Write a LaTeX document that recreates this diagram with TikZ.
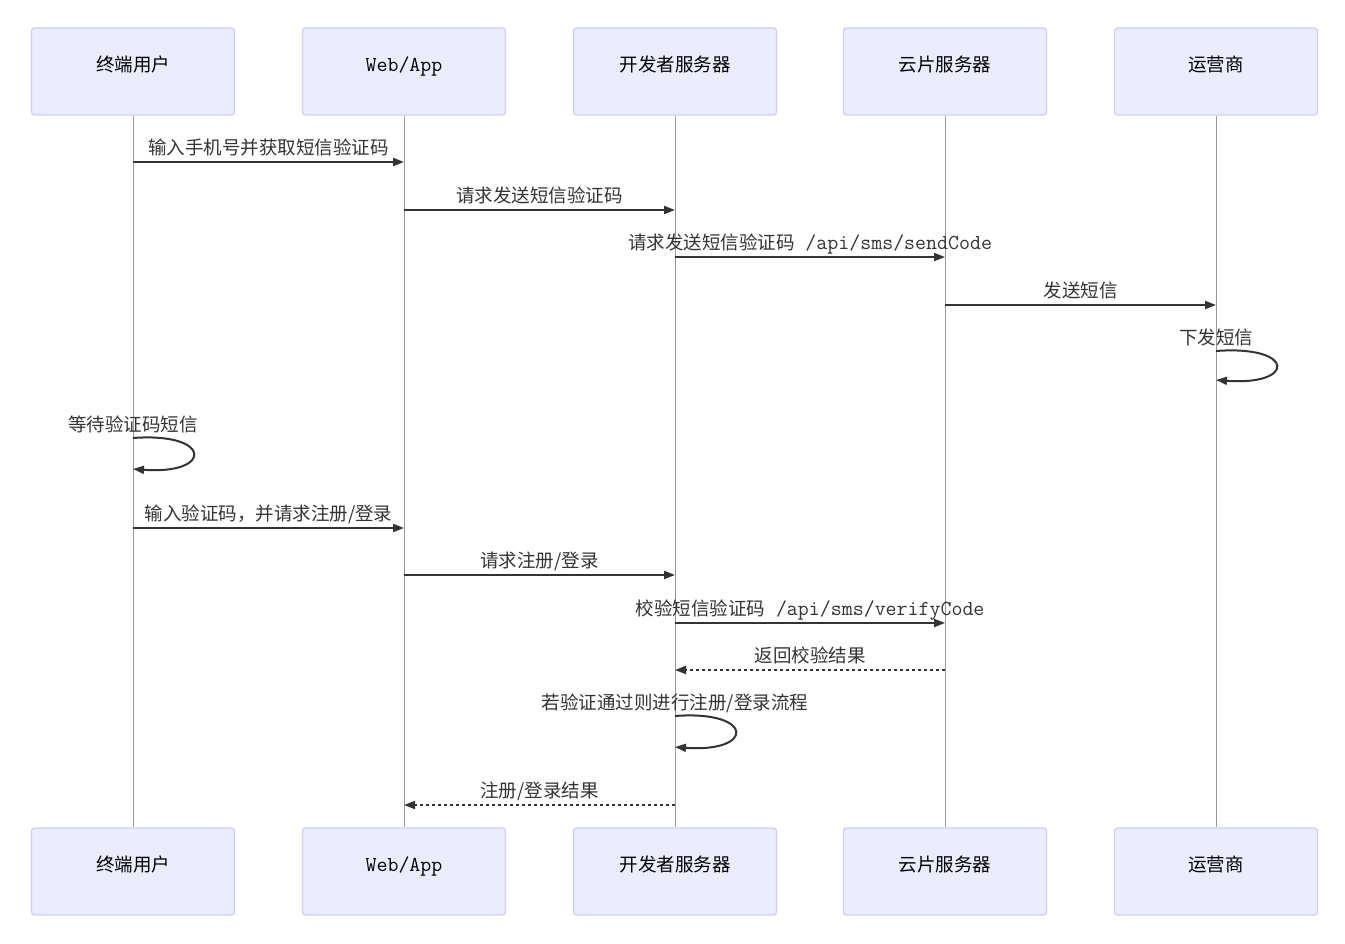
\documentclass[tikz,border=0pt]{standalone}
\usepackage{fontspec}
\setmainfont{Noto Sans CJK SC}
\newcommand\codefont{\ttfamily\fontsize{21.3}{22}\selectfont}
\usetikzlibrary{arrows.meta}
\definecolor{actorfill}{HTML}{ECECFF}
\definecolor{actorline}{HTML}{CCCCFF}
\definecolor{msgline}{HTML}{333333}
\definecolor{lifeline}{HTML}{999999}
\tikzstyle{actor} = [draw=actorline, line width=1.3pt, fill=actorfill, rounded corners=3pt, minimum width=203pt, minimum height=87pt, inner sep=0pt, text height=14pt, text depth=14pt, text=black, font=\fontsize{18.5}{22}\selectfont]
\tikzstyle{life} = [draw=lifeline, line width=1pt]
\tikzstyle{msg} = [draw=msgline, line width=2pt, -{Triangle[length=11pt,width=8pt]}]
\tikzstyle{reply} = [msg, dash pattern=on 3pt off 3pt]
\tikzstyle{lbl} = [anchor=base, yshift=7.5pt, inner sep=0pt, text=msgline, font=\fontsize{18.5}{22}\selectfont]

\begin{document}
\begin{tikzpicture}[x=1pt,y=-1pt]
        \useasboundingbox (0,0) rectangle (1345,944);
        % actors, top row
        \node [actor] (u1) at (133,71.5) {终端用户};
        \node [actor] (u2) at (404,71.5) {\codefont Web/App};
        \node [actor] (u3) at (675,71.5) {开发者服务器};
        \node [actor] (u4) at (945,71.5) {云片服务器};
        \node [actor] (u5) at (1216,71.5) {运营商};
        % actors, bottom row
        \node [actor] (d1) at (133,871.5) {终端用户};
        \node [actor] (d2) at (404,871.5) {\codefont Web/App};
        \node [actor] (d3) at (675,871.5) {开发者服务器};
        \node [actor] (d4) at (945,871.5) {云片服务器};
        \node [actor] (d5) at (1216,871.5) {运营商};
        % lifelines
        \foreach \i in {1,...,5}
                \draw [life] (u\i.south) -- (d\i.north);
        % messages
        \draw [msg] (u1 |- 0,162) -- node [lbl] {输入手机号并获取短信验证码} (u2 |- 0,162);
        \draw [msg] (u2 |- 0,210) -- node [lbl] {请求发送短信验证码} (u3 |- 0,210);
        \draw [msg] (u3 |- 0,257) -- node [lbl] {请求发送短信验证码\codefont\ /api/sms/sendCode} (u4 |- 0,257);
        \draw [msg] (u4 |- 0,305) -- node [lbl] {发送短信} (u5 |- 0,305);
        \draw [msg] (u5 |- 0,351) node [lbl, yshift=-1pt] {下发短信} .. controls +(80,-6) and +(80,6) .. (u5 |- 0,380);
        \draw [msg] (u1 |- 0,438) node [lbl, yshift=-1pt] {等待验证码短信} .. controls +(80,-6) and +(80,6) .. (u1 |- 0,469);
        \draw [msg] (u1 |- 0,528) -- node [lbl] {输入验证码，并请求注册/登录} (u2 |- 0,528);
        \draw [msg] (u2 |- 0,575) -- node [lbl] {请求注册/登录} (u3 |- 0,575);
        \draw [msg] (u3 |- 0,623) -- node [lbl] {校验短信验证码\codefont\ /api/sms/verifyCode} (u4 |- 0,623);
        \draw [reply] (u4 |- 0,670) -- node [lbl] {返回校验结果} (u3 |- 0,670);
        \draw [msg] (u3 |- 0,716) node [lbl, yshift=-1pt] {若验证通过则进行注册/登录流程} .. controls +(80,-6) and +(80,6) .. (u3 |- 0,747);
        \draw [reply] (u3 |- 0,805) -- node [lbl] {注册/登录结果} (u2 |- 0,805);
\end{tikzpicture}
\end{document}
